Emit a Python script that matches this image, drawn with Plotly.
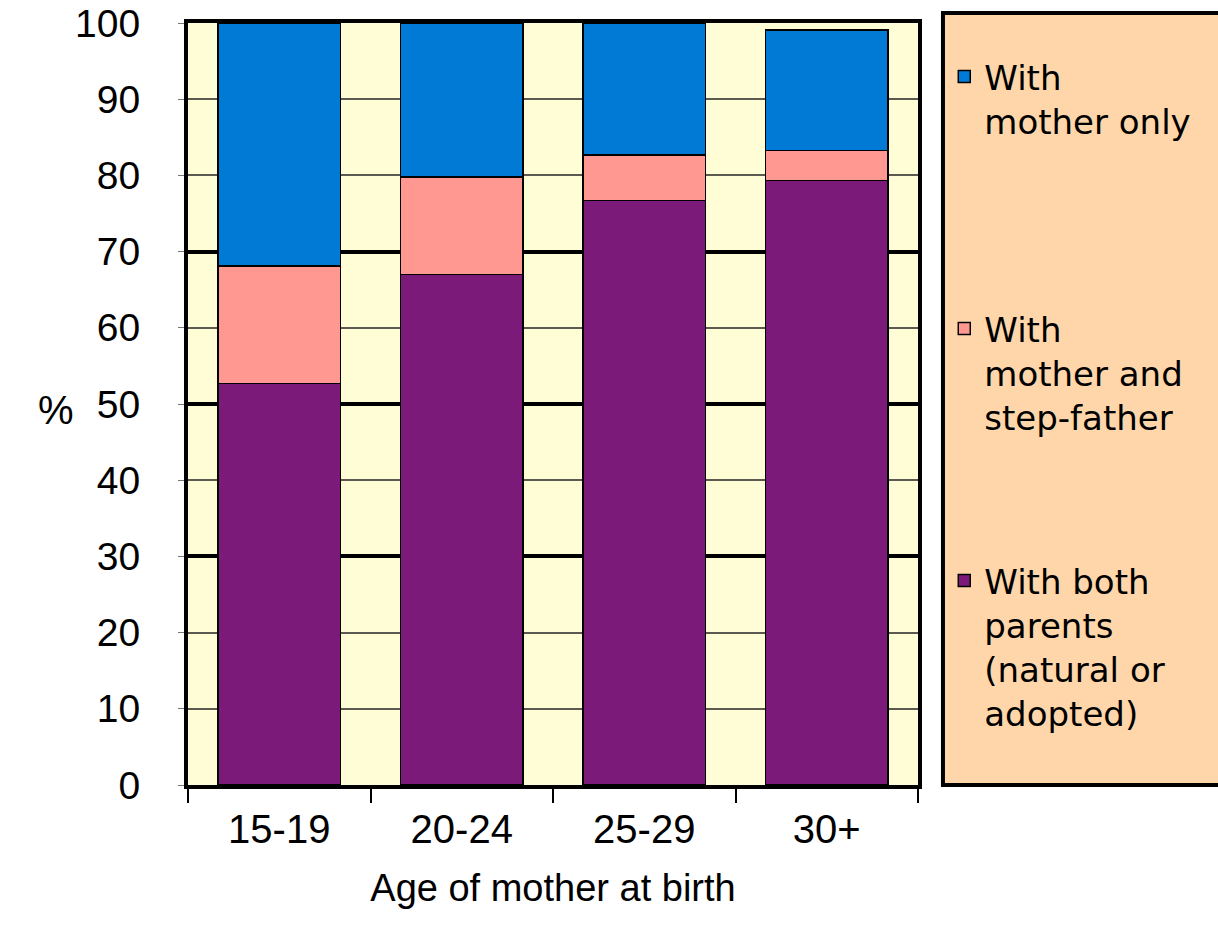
import plotly.graph_objects as go

# Living arrangements of children by age of mother at birth (%)
ages = ["15-19", "20-24", "25-29", "30+"]
both_parents = [52.7, 67.0, 76.7, 79.3]
mother_stepfather = [15.4, 12.8, 6.0, 4.0]
mother_only = [31.9, 20.2, 17.3, 15.8]

y_ticks = [0, 10, 20, 30, 40, 50, 60, 70, 80, 90, 100]
heavy_grid = [30, 50, 70]

names = [
    "With both<br>parents<br>(natural or<br>adopted)",
    "With<br>mother and<br>step-father",
    "With<br>mother only",
]
colors = ["#7B1A78", "#FF9891", "#007AD4"]
series = [both_parents, mother_stepfather, mother_only]
legends = ["legend3", "legend2", "legend"]

fig = go.Figure()
for name, vals, col, lg in zip(names, series, colors, legends):
    fig.add_trace(go.Bar(
        x=ages, y=vals, name=name, legend=lg,
        marker=dict(color=col, line=dict(color="black", width=1.5)),
        width=0.67,
    ))

# invisible trace carrying the heavier gridlines
fig.add_trace(go.Scatter(x=ages, y=[None] * 4, yaxis="y2", showlegend=False,
                         hoverinfo="skip"))

legend_font = dict(family="DejaVu Sans", size=34, color="black")
common_leg = dict(x=1.036, xanchor="left", yanchor="top", bgcolor="rgba(0,0,0,0)",
                  font=legend_font, valign="top", itemwidth=30)

fig.update_layout(
    width=1218, height=939,
    margin=dict(l=188, r=300, t=23, b=154, autoexpand=False),
    paper_bgcolor="white",
    plot_bgcolor="#FFFDD6",
    barmode="stack",
    bargap=0.33,
    font=dict(family="Liberation Sans", color="black"),
    legend=dict(y=(785 - 48) / 762, **common_leg),
    legend2=dict(y=(785 - 300) / 762, **common_leg),
    legend3=dict(y=(785 - 552) / 762, **common_leg),
    xaxis=dict(
        tickfont=dict(size=40), tickson="boundaries", ticks="outside",
        ticklen=14, tickwidth=2, tickcolor="black", ticklabelstandoff=6,
        showline=True, linecolor="black", linewidth=4, mirror=True,
        automargin=False,
        title=dict(text="Age of mother at birth", font=dict(size=38), standoff=25),
    ),
    yaxis=dict(
        range=[0, 100], tickvals=y_ticks, tickfont=dict(size=39),
        showgrid=True, gridcolor="#5A5A50", gridwidth=2,
        showline=True, linecolor="black", linewidth=4, mirror=True,
        ticks="outside", ticklen=6, tickcolor="#777", ticklabelstandoff=30,
        zeroline=False, automargin=False,
    ),
    yaxis2=dict(
        range=[0, 100], overlaying="y", tickvals=heavy_grid, showticklabels=False,
        showgrid=True, gridcolor="black", gridwidth=4, zeroline=False,
        automargin=False,
    ),
    shapes=[dict(
        type="rect", xref="paper", yref="paper",
        x0=1.0342, x1=1.42, y0=0, y1=(785 - 13) / 762,
        fillcolor="#FFD6AA", line=dict(color="black", width=4), layer="below",
    )],
    annotations=[dict(
        text="%", xref="paper", yref="paper", x=(36 - 188) / 730, y=(785 - 410) / 762,
        showarrow=False, font=dict(size=40, family="Liberation Sans"),
    )],
)

fig.write_html("out.html")
